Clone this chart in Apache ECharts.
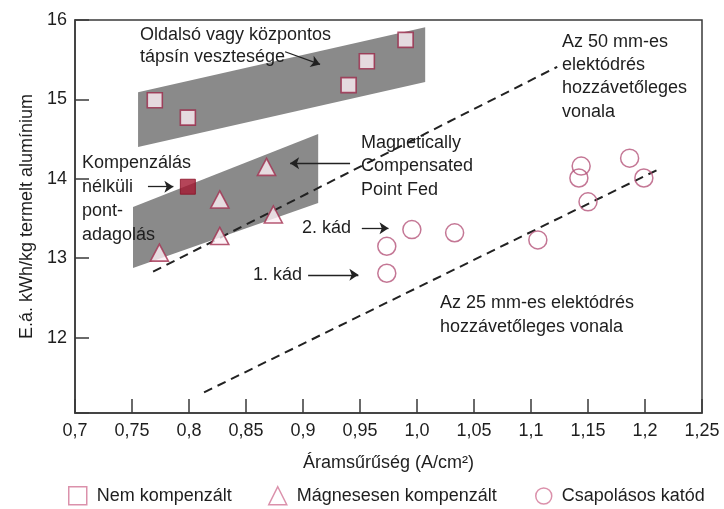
<!DOCTYPE html>
<html>
<head>
<meta charset="utf-8">
<script src="https://cdn.jsdelivr.net/npm/echarts@6/dist/echarts.min.js"></script>
<style>
html,body{margin:0;padding:0;background:#fff;}
#c{width:724px;height:509px;}
</style>
</head>
<body>
<div id="c"></div>
<script>
// ---- data ----
const seriesNames = ['Nem kompenzált', 'Mágnesesen kompenzált', 'Csapolásos katód'];
const nemKompenzalt = [[0.770,14.99],[0.799,14.77],[0.940,15.18],[0.956,15.48],[0.990,15.75]];
const kompenzalasNelkuli = [[0.799,13.90]];
const magnesesen = [[0.774,13.07],[0.827,13.74],[0.827,13.28],[0.868,14.15],[0.874,13.55]];
const csapolasos = [[0.9735,13.15],[0.9735,12.81],[0.9955,13.36],[1.033,13.32],[1.106,13.23],
                    [1.150,13.71],[1.142,14.01],[1.144,14.16],[1.199,14.01],[1.1865,14.26]];
const line50mm = [[0.7685,12.83],[1.123,15.41]];
const line25mm = [[0.8132,11.31],[1.2105,14.11]];
const bandOldalso = [[0.7553,15.09],[1.0072,15.91],[1.0072,15.22],[0.7553,14.40]];
const bandMagnetic = [[0.7509,13.645],[0.9133,14.564],[0.9133,13.695],[0.7509,12.876]];
const bands = [bandOldalso, bandMagnetic];
const arrows = [
  [[0.8843,15.60],[0.915,15.44]],
  [[0.9413,14.195],[0.8887,14.195]],
  [[0.764,13.90],[0.7863,13.90]],
  [[0.9516,13.376],[0.975,13.376]],
  [[0.9045,12.79],[0.9486,12.79]]
];
const xMin = 0.7, xMax = 1.25, xStep = 0.05;
const yMin = 11.05, yMax = 16;
const xTitle = 'Áramsűrűség (A/cm²)';
const yTitle = 'E.á. kWh/kg termelt alumínium';
const notes = [
  ['Oldalsó vagy központos',140,35],['tápsín vesztesége',140,57],
  ['Magnetically',361,143],['Compensated',361,166.5],['Point Fed',361,190],
  ['Az 50 mm-es',562,42],['elektódrés',562,65],['hozzávetőleges',562,88.5],['vonala',562,112],
  ['Kompenzálás',82,163],['nélküli',82,187],['pont-',82,211],['adagolás',82,235],
  ['Az 25 mm-es elektódrés',440,303],['hozzávetőleges vonala',440,327],
  ['2. kád',302,228],['1. kád',253,275]
];

// ---- chart ----
const FONT = '"Liberation Sans", Arial, sans-serif';
const TXT = '#1e1e1e';
const chart = echarts.init(document.getElementById('c'), null, {renderer:'canvas'});

function fmtX(v){
  let s = (Math.round(v*100)/100).toString();
  if (s.indexOf('.') < 0) s += '.0';
  return s.replace('.', ',');
}

const legendBase = {
  top: 486, padding: 0, itemWidth: 18, itemHeight: 18, selectedMode: false,
  textStyle: {fontFamily: FONT, fontSize: 18, color: TXT, padding: [0,0,0,5]}
};
const legendIcon = {color:'#ffffff', borderColor:'#d27596', borderWidth:1.5};

const option = {
  animation: false,
  backgroundColor: '#ffffff',
  grid: {left: 75, right: 22, top: 20, bottom: 96, show: true, borderColor: '#3a3a3a', borderWidth: 1.5, backgroundColor: 'transparent'},
  xAxis: {
    type: 'value', min: xMin, max: xMax, interval: xStep,
    name: xTitle, nameLocation: 'middle', nameGap: 41,
    nameTextStyle: {fontFamily: FONT, fontSize: 18, color: TXT},
    axisLine: {show: true, lineStyle: {color: '#3a3a3a', width: 1.5}},
    axisTick: {show: true, inside: true, length: 14, lineStyle: {color: '#3a3a3a', width: 1.5}},
    axisLabel: {formatter: fmtX, fontFamily: FONT, fontSize: 18, color: TXT, margin: 9},
    splitLine: {show: false}
  },
  yAxis: {
    type: 'value', min: yMin, max: yMax,
    name: yTitle, nameLocation: 'middle', nameGap: 38,
    nameTextStyle: {fontFamily: FONT, fontSize: 18, color: TXT},
    axisLine: {show: true, lineStyle: {color: '#3a3a3a', width: 1.5}},
    axisTick: {show: true, inside: true, length: 14, lineStyle: {color: '#3a3a3a', width: 1.5}},
    axisLabel: {formatter: v => (Math.abs(v - Math.round(v)) < 1e-6 ? String(Math.round(v)) : ''),
                fontFamily: FONT, fontSize: 18, color: TXT, margin: 8},
    splitLine: {show: false}
  },
  legend: [
    Object.assign({}, legendBase, {left: 68, data: [{name: seriesNames[0], icon: 'rect', itemStyle: legendIcon}]}),
    Object.assign({}, legendBase, {left: 268, data: [{name: seriesNames[1], icon: 'triangle', itemStyle: legendIcon}]}),
    Object.assign({}, legendBase, {left: 535, itemWidth: 16, itemHeight: 16, top: 487, data: [{name: seriesNames[2], icon: 'circle', itemStyle: legendIcon}]})
  ],
  graphic: notes.map(n => ({
    type: 'text', x: n[1], y: n[2], silent: true, z: 50,
    style: {text: n[0], font: '18px ' + FONT, fill: TXT, verticalAlign: 'middle', align: 'left'}
  })),
  series: [
    {
      type: 'custom', name: 'bands', silent: true, z: 1,
      data: bands.map(b => b[0]),
      renderItem: function (params, api) {
        const pts = bands[params.dataIndex].map(p => api.coord(p));
        return {type: 'polygon', shape: {points: pts}, style: {fill: '#8a8a8a'}};
      }
    },
    {
      type: 'line', name: '50mm', data: line50mm, symbol: 'none', silent: true, z: 3,
      lineStyle: {color: '#222', width: 2, type: [9, 6]}
    },
    {
      type: 'line', name: '25mm', data: line25mm, symbol: 'none', silent: true, z: 3,
      lineStyle: {color: '#222', width: 2, type: [9, 6]},
      markLine: {
        silent: true, symbol: ['none', 'arrow'], symbolSize: 9,
        label: {show: false},
        lineStyle: {color: '#222', width: 1.3, type: 'solid'},
        data: arrows.map(a => [{coord: a[0]}, {coord: a[1]}])
      }
    },
    {
      type: 'scatter', name: seriesNames[0], data: nemKompenzalt, symbol: 'rect', symbolSize: 15, z: 5,
      itemStyle: {color: '#fbeef4', borderColor: '#9a2848', borderWidth: 1.6}
    },
    {
      type: 'scatter', name: 'Kompenzálás nélküli', data: kompenzalasNelkuli, symbol: 'rect', symbolSize: 15, z: 5,
      itemStyle: {color: '#a3172f', borderColor: '#8a1026', borderWidth: 1}
    },
    {
      type: 'scatter', name: seriesNames[1], data: magnesesen, symbol: 'triangle', symbolSize: [18, 17], z: 5,
      itemStyle: {color: '#fdf0f5', borderColor: '#a33050', borderWidth: 1.6}
    },
    {
      type: 'scatter', name: seriesNames[2], data: csapolasos, symbol: 'circle', symbolSize: 18, z: 5,
      itemStyle: {color: 'rgba(255,255,255,0)', borderColor: '#b5557a', borderWidth: 1.5}
    }
  ]
};
chart.setOption(option);
</script>
</body>
</html>
